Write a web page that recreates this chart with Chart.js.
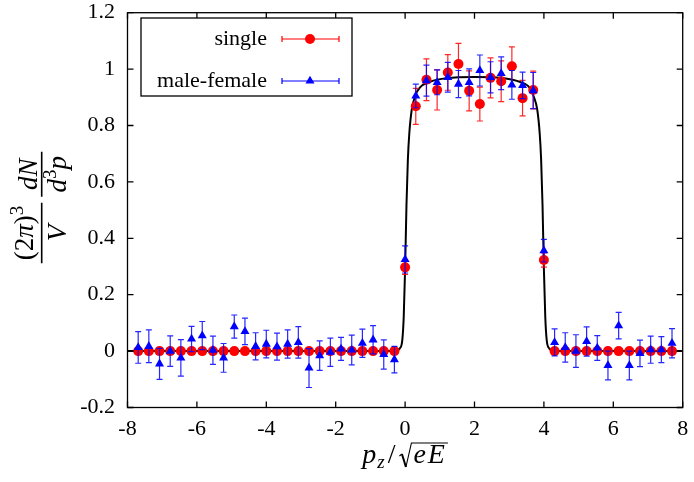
<!DOCTYPE html>
<html><head><meta charset="utf-8">
<script src="https://cdn.jsdelivr.net/npm/chart.js@4"></script>
<style>html,body{margin:0;padding:0;background:#fff}</style>
</head><body>
<canvas id="c" width="694" height="482"></canvas>
<script>
// ---- data ----
const pzValues = [-7.692,-7.385,-7.077,-6.769,-6.462,-6.154,-5.846,-5.538,-5.231,-4.923,-4.615,-4.308,-4.0,-3.692,-3.385,-3.077,-2.769,-2.462,-2.154,-1.846,-1.538,-1.231,-0.923,-0.615,-0.308,
  0,0.308,0.615,0.923,1.231,1.538,1.846,2.154,2.462,2.769,3.077,3.385,3.692,4.0,
  4.308,4.615,4.923,5.231,5.538,5.846,6.154,6.462,6.769,7.077,7.385,7.692];
const singleValues = [0,0,0,0,0,0,0,0,0,0,0,0,0,0,0,0,0,0,0,0,0,0,0,0,0,
  0.297,0.868,0.962,0.926,0.988,1.018,0.923,0.876,0.969,0.957,1.010,0.897,0.926,0.323,
  0,0,0,0,0,0,0,0,0,0,0,0];
const singleErrors = [0,0,0,0,0,0,0,0,0,0,0,0,0,0,0,0,0,0,0,0,0,0,0,0,0,
  0.025,0.064,0.074,0.071,0.063,0.073,0.071,0.060,0.071,0.072,0.069,0.063,0.067,0.025,
  0,0,0,0,0,0,0,0,0,0,0,0];
const maleFemaleValues = [0.013,0.017,-0.045,0.0,-0.024,0.043,0.055,0.003,-0.024,0.087,0.070,0.017,0.025,0.016,0.025,0.031,-0.060,-0.016,-0.004,0.008,0.004,0.028,0.040,-0.012,-0.030,
  0.325,0.905,0.959,0.953,0.971,0.947,0.953,0.995,0.971,0.985,0.944,0.942,0.924,0.356,
  0.031,0.013,0.0,0.034,0.011,-0.051,0.090,-0.051,-0.008,0.005,0.005,0.028];
const maleFemaleErrors = [0.056,0.058,0.055,0.054,0.065,0.045,0.050,0.050,0.051,0.041,0.047,0.048,0.049,0.048,0.050,0.056,0.069,0.052,0.050,0.041,0.053,0.050,0.050,0.052,0.047,
  0.048,0.042,0.055,0.044,0.053,0.048,0.048,0.055,0.055,0.058,0.051,0.047,0.064,0.040,
  0.048,0.052,0.058,0.052,0.044,0.051,0.047,0.051,0.047,0.048,0.046,0.052];
const theoryX = [-8,-0.3,-0.15,-0.08,-0.04,0,0.04,0.08,0.12,0.19,0.29,0.43,0.72,1.2,2.0,2.9,3.3,3.6,3.71,3.81,3.88,3.92,3.96,4.0,4.04,4.08,4.15,4.3,8];
const theoryY = [0,0,0.01,0.04,0.12,0.29,0.52,0.68,0.77,0.855,0.905,0.935,0.955,0.968,0.972,0.967,0.955,0.932,0.902,0.855,0.77,0.68,0.52,0.29,0.12,0.04,0.01,0,0];
const seriesNames = ['single','male-female'];
const xTickLabels = ['-8','-6','-4','-2','0','2','4','6','8'];
const yTickLabels = ['-0.2','0','0.2','0.4','0.6','0.8','1','1.2'];

const SERIF = '"Liberation Serif", "DejaVu Serif", serif';
const tickFont = {family: SERIF, size: 22};
const RED = '#ff0000', BLUE = '#0000ff';

function runs(ctx, list, x, baseline, align) {
  let w = 0;
  list.forEach(r => { ctx.font = r.f; r.w = ctx.measureText(r.t).width; w += r.w + (r.gap||0); });
  let cx = align === 'center' ? x - w / 2 : x;
  list.forEach(r => { ctx.font = r.f; ctx.fillText(r.t, cx, baseline + (r.dy || 0)); cx += r.w + (r.gap||0); });
}

const errorBars = {
  id: 'errorBars',
  beforeDatasetDraw(chart, args) {
    const ds = chart.data.datasets[args.index];
    if (!ds.errors) return;
    const ctx = chart.ctx, ys = chart.scales.y, a = chart.chartArea;
    ctx.save();
    ctx.beginPath(); ctx.rect(a.left, a.top, a.right - a.left, a.bottom - a.top); ctx.clip();
    ctx.strokeStyle = ds.errColor; ctx.lineWidth = 1.2;
    args.meta.data.forEach((pt, i) => {
      const e = ds.errors[i];
      if (!e) return;
      const v = ds.data[i].y;
      const y1 = ys.getPixelForValue(v + e), y2 = ys.getPixelForValue(v - e);
      ctx.beginPath();
      ctx.moveTo(pt.x, y1); ctx.lineTo(pt.x, y2);
      ctx.moveTo(pt.x - 3, y1); ctx.lineTo(pt.x + 3, y1);
      ctx.moveTo(pt.x - 3, y2); ctx.lineTo(pt.x + 3, y2);
      ctx.stroke();
    });
    ctx.restore();
  }
};

const frame = {
  id: 'frame',
  afterDraw(chart) {
    const ctx = chart.ctx, a = chart.chartArea, xs = chart.scales.x, ys = chart.scales.y;
    ctx.save();
    ctx.strokeStyle = '#000'; ctx.lineWidth = 1.3;
    ctx.strokeRect(a.left, a.top, a.right - a.left, a.bottom - a.top);
    ctx.beginPath();
    xs.ticks.forEach(t => {
      const x = xs.getPixelForValue(t.value);
      ctx.moveTo(x, a.bottom); ctx.lineTo(x, a.bottom - 6);
      ctx.moveTo(x, a.top); ctx.lineTo(x, a.top + 6);
    });
    ys.ticks.forEach(t => {
      const y = ys.getPixelForValue(t.value);
      ctx.moveTo(a.left, y); ctx.lineTo(a.left + 6, y);
      ctx.moveTo(a.right, y); ctx.lineTo(a.right - 6, y);
    });
    ctx.stroke();

    // legend box
    const lx = 141, ly = 18, lw = 211, lh = 78;
    ctx.fillStyle = '#fff';
    ctx.fillRect(lx, ly, lw, lh);
    ctx.strokeRect(lx, ly, lw, lh);
    ctx.font = '22px ' + SERIF;
    ctx.textAlign = 'right'; ctx.textBaseline = 'middle';
    const rows = [{y: 39, c: RED, name: seriesNames[0], m: 'circle'}, {y: 81, c: BLUE, name: seriesNames[1], m: 'tri'}];
    rows.forEach(r => {
      ctx.fillStyle = '#000';
      ctx.fillText(r.name, 267, r.y);
      ctx.strokeStyle = r.c; ctx.lineWidth = 1.2;
      ctx.beginPath();
      ctx.moveTo(282, r.y); ctx.lineTo(339, r.y);
      ctx.moveTo(282, r.y - 3); ctx.lineTo(282, r.y + 3);
      ctx.moveTo(339, r.y - 3); ctx.lineTo(339, r.y + 3);
      ctx.stroke();
      ctx.fillStyle = r.c;
      ctx.beginPath();
      if (r.m === 'circle') { ctx.arc(310, r.y, 5, 0, Math.PI * 2); }
      else { const R = 5.2; ctx.moveTo(310, r.y - R); ctx.lineTo(310 + 0.866 * R, r.y + R / 2); ctx.lineTo(310 - 0.866 * R, r.y + R / 2); ctx.closePath(); }
      ctx.fill();
    });

    // x-axis title: p_z / sqrt(eE)
    ctx.fillStyle = '#000'; ctx.strokeStyle = '#000';
    ctx.textAlign = 'left'; ctx.textBaseline = 'alphabetic';
    const IT = 'italic 28px ' + SERIF, RM = '28px ' + SERIF, SUB = 'italic 19px ' + SERIF;
    const cxm = (a.left + a.right) / 2;
    const base = 463;
    ctx.font = IT; const wp = ctx.measureText('p').width, we = ctx.measureText('e').width, wE = ctx.measureText('E').width;
    ctx.font = SUB; const wz = ctx.measureText('z').width;
    ctx.font = RM; const ws = ctx.measureText('/').width;
    const wr = 12;
    const total = wp + 1 + wz + 3 + ws + 4 + wr + 2 + we + 2 + wE + 3;
    let x0 = cxm - total / 2;
    ctx.font = IT; ctx.fillText('p', x0, base); x0 += wp + 1;
    ctx.font = SUB; ctx.fillText('z', x0, base + 5); x0 += wz + 3;
    ctx.font = RM; ctx.fillText('/', x0, base); x0 += ws + 4;
    ctx.lineWidth = 1.1;
    ctx.beginPath(); ctx.moveTo(x0, base - 7); ctx.lineTo(x0 + 2.5, base - 9); ctx.stroke();
    ctx.lineWidth = 2;
    ctx.beginPath(); ctx.moveTo(x0 + 2.5, base - 9); ctx.lineTo(x0 + 6.5, base + 4); ctx.stroke();
    ctx.lineWidth = 1.1;
    const ovEnd = x0 + wr + 2 + we + 2 + wE + 3;
    ctx.beginPath(); ctx.moveTo(x0 + 6.5, base + 4); ctx.lineTo(x0 + wr, base - 20); ctx.lineTo(ovEnd, base - 20); ctx.stroke();
    x0 += wr + 2;
    ctx.font = IT; ctx.fillText('e', x0, base); x0 += we + 2;
    ctx.fillText('E', x0, base);

    // y-axis title (rotated fractions)
    ctx.save();
    ctx.translate(41.7, 207.5);
    ctx.rotate(-Math.PI / 2);
    ctx.lineWidth = 1.6;
    ctx.beginPath(); ctx.moveTo(-55.8, 0); ctx.lineTo(4.8, 0); ctx.moveTo(10.8, 0); ctx.lineTo(55.8, 0); ctx.stroke();
    const SUP = '19px ' + SERIF, YIT = 'italic 27px ' + SERIF, YRM = '27px ' + SERIF;
    runs(ctx, [{t: '(2', f: YRM}, {t: 'π', f: YIT}, {t: ')', f: YRM}, {t: '3', f: SUP, dy: -10}], -25.5, -9, 'center');
    runs(ctx, [{t: 'V', f: YIT}], -25.5, 24, 'center');
    runs(ctx, [{t: 'dN', f: YIT}], 33.3, -5, 'center');
    runs(ctx, [{t: 'd', f: YIT}, {t: '3', f: SUP, dy: -10}, {t: 'p', f: YIT}], 33.3, 24, 'center');
    ctx.restore();
    ctx.restore();
  }
};

new Chart(document.getElementById('c'), {
  type: 'scatter',
  data: {
    datasets: [
      {label: seriesNames[0], data: pzValues.map((x, i) => ({x, y: singleValues[i]})), errors: singleErrors, errColor: 'rgba(255,0,0,0.85)',
       pointStyle: 'circle', pointRadius: 5, backgroundColor: RED, borderWidth: 0, order: 1},
      {label: seriesNames[1], data: pzValues.map((x, i) => ({x, y: maleFemaleValues[i]})), errors: maleFemaleErrors, errColor: 'rgba(0,0,255,0.85)',
       pointStyle: 'triangle', pointRadius: 5.2, backgroundColor: BLUE, borderWidth: 0, order: 0},
      {label: 'theory', data: theoryX.map((x, i) => ({x, y: theoryY[i]})), showLine: true, borderColor: '#000', borderWidth: 2,
       pointRadius: 0, cubicInterpolationMode: 'monotone', order: 2}
    ]
  },
  options: {
    responsive: false, animation: false, events: [],
    layout: {padding: {left: 0, top: 12.7, right: 11.3, bottom: 0}},
    plugins: {legend: {display: false}, tooltip: {enabled: false}},
    scales: {
      x: {type: 'linear', min: -8, max: 8,
          ticks: {stepSize: 2, autoSkip: false, maxRotation: 0, color: '#000', font: tickFont, padding: 9,
                  callback: (v, i) => xTickLabels[i]},
          grid: {display: false, drawTicks: false}, border: {display: false},
          afterFit: s => { s.height = 74.5; s.paddingLeft = 0; s.paddingRight = 0; }},
      y: {min: -0.2, max: 1.2,
          ticks: {stepSize: 0.2, autoSkip: false, color: '#000', font: tickFont, padding: 12.5,
                  callback: (v, i) => yTickLabels[i]},
          grid: {display: false, drawTicks: false}, border: {display: false},
          afterFit: s => { s.width = 127.5; s.paddingTop = 0; s.paddingBottom = 0; }}
    }
  },
  plugins: [errorBars, frame]
});
</script>
</body></html>
